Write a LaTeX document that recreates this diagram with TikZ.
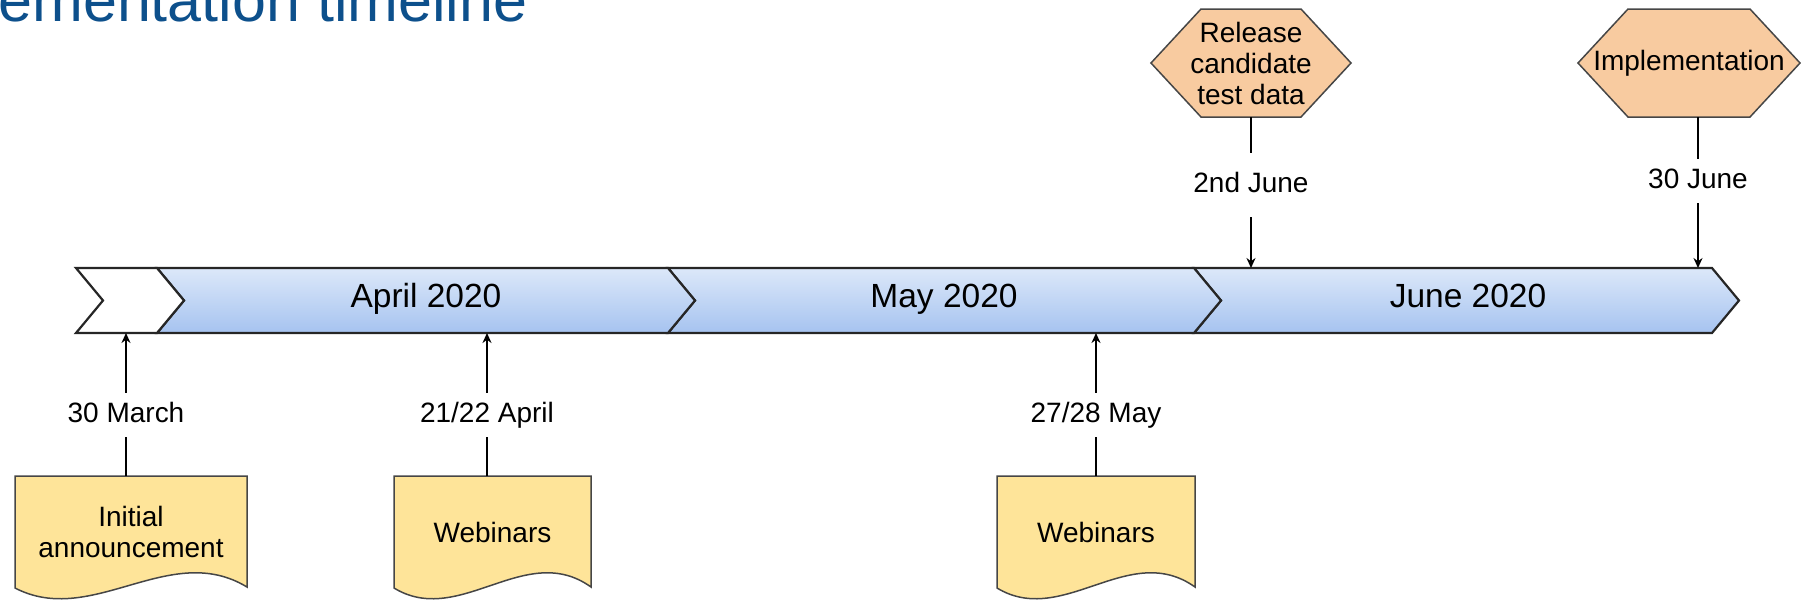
\documentclass[tikz,border=0pt]{standalone}
\usepackage{fontspec}
\setmainfont{Liberation Sans}
\usetikzlibrary{arrows.meta}

\definecolor{titleblue}{RGB}{13,80,140}
\definecolor{barlight}{RGB}{220,232,249}
\definecolor{bardark}{RGB}{166,195,240}
\definecolor{hexorange}{RGB}{248,203,160}
\definecolor{docyellow}{RGB}{254,228,153}
\definecolor{edgegray}{RGB}{70,70,70}

\tikzset{
 monthbar/.style={draw=black!85,line width=1.1pt,top color=barlight,bottom color=bardark},
 startbar/.style={draw=black!85,line width=1.1pt,fill=white},
 monthlabel/.style={font=\fontsize{16.75}{18}\selectfont,text height=0.72em,text depth=0pt,inner sep=0pt},
 datelabel/.style={font=\fontsize{14}{16}\selectfont,text height=0.72em,text depth=0pt,inner xsep=2pt,inner ysep=7.45pt,outer sep=0pt},
 hexshape/.style={draw=edgegray,line width=0.75pt,fill=hexorange},
 docshape/.style={draw=edgegray,line width=0.75pt,fill=docyellow},
 eventbox/.style={font=\fontsize{14}{15.5}\selectfont,align=center,inner sep=0pt,outer sep=0pt},
 tick/.style={line width=1pt},
 tickarrow/.style={line width=1pt,-{Stealth[length=5pt,width=4.5pt]}},
}

% month chevron: left x, right x, style
\newcommand{\monthseg}[3]{%
 \path[#3] (#1,268) -- (#2,268) -- ({#2+27},300.5) -- (#2,333) -- (#1,333) -- ({#1+27},300.5) -- cycle;}
% hexagon: centre x, centre y, half width
\newcommand{\hexpath}[3]{%
 \path[hexshape] ({#1-#3},#2) -- ({#1-#3+50},{#2-54}) -- ({#1+#3-50},{#2-54}) -- ({#1+#3},#2)
  -- ({#1+#3-50},{#2+54}) -- ({#1-#3+50},{#2+54}) -- cycle;}
% document: left x, width
\newcommand{\docpath}[2]{%
 \path[docshape] (#1,588) -- (#1,476) -- ({#1+#2},476) -- ({#1+#2},587)
  .. controls ({#1+#2*2/3},540) and ({#1+#2/3},628) .. (#1,588) -- cycle;}

\begin{document}
\begin{tikzpicture}[x=0.5pt,y=-0.5pt]
 \useasboundingbox (0,0) rectangle (1801,602);

 \node[anchor=base west,text=titleblue,font=\fontsize{30.5}{32}\selectfont,inner sep=0pt] (title) at (-2,21) {ementation timeline};

 % timeline bar
 \monthseg{1194}{1712}{monthbar}
 \monthseg{668}{1194}{monthbar}
 \monthseg{157}{668}{monthbar}
 \monthseg{76}{157}{startbar}
 \coordinate (bartop) at (0,268);
 \coordinate (barbot) at (0,333);
 \node[monthlabel] (april) at (426,300) {April 2020};
 \node[monthlabel] (may) at (944,300) {May 2020};
 \node[monthlabel] (june) at (1468,300) {June 2020};

 % events above
 \hexpath{1251}{63}{100}
 \hexpath{1689}{63}{111}
 \node[eventbox,minimum width=100pt,minimum height=54pt] (relhex) at (1251,63) {Release\\candidate\\test data};
 \node[eventbox,minimum width=111pt,minimum height=54pt] (imphex) at (1689,63) {Implementation};
 \node[datelabel,inner ysep=12.45pt] (jun2) at (1251,185) {2nd June};
 \node[datelabel] (jun30) at (1698,181) {30 June};
 \draw[tick] (relhex.south) -- (jun2.north);
 \draw[tickarrow] (jun2.south) -- (jun2.south |- bartop);
 \draw[tick] (jun30.north) -- (jun30.north |- imphex.south);
 \draw[tickarrow] (jun30.south) -- (jun30.south |- bartop);

 % events below
 \docpath{15}{232}
 \docpath{394}{197}
 \docpath{997}{198}
 \node[eventbox,minimum width=116pt,minimum height=56pt] (anndoc) at (131,532) {Initial\\announcement};
 \node[eventbox,minimum width=98.5pt,minimum height=56pt] (aprdoc) at (492.5,532) {Webinars};
 \node[eventbox,minimum width=99pt,minimum height=56pt] (maydoc) at (1096,532) {Webinars};
 \node[datelabel] (mar30) at (126,415) {30 March};
 \node[datelabel] (apr21) at (487,415) {21/22 April};
 \node[datelabel] (may27) at (1096,415) {27/28 May};
 \draw[tick] (mar30.south) -- (mar30.south |- anndoc.north);
 \draw[tickarrow] (mar30.north) -- (mar30.north |- barbot);
 \draw[tick] (apr21.south) -- (apr21.south |- aprdoc.north);
 \draw[tickarrow] (apr21.north) -- (apr21.north |- barbot);
 \draw[tick] (may27.south) -- (may27.south |- maydoc.north);
 \draw[tickarrow] (may27.north) -- (may27.north |- barbot);
\end{tikzpicture}
\end{document}
